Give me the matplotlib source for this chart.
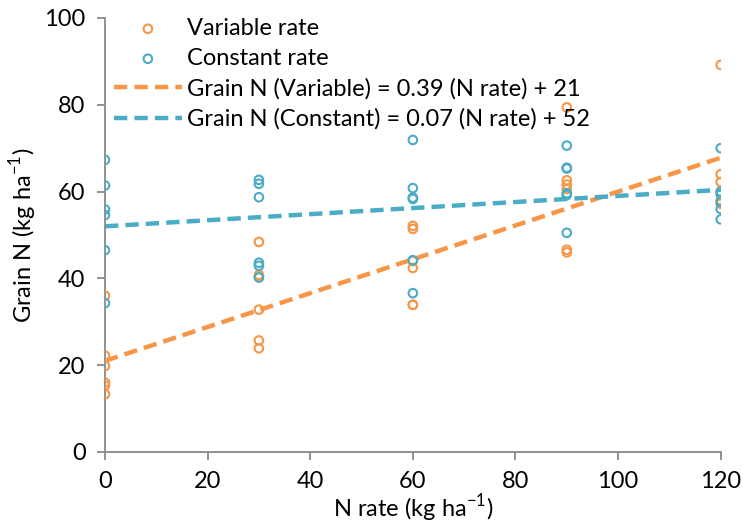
import numpy as np
import matplotlib.pyplot as plt

plt.rcParams['font.family'] = ['Lato', 'DejaVu Sans']

# N rate (kg/ha) for each observation
x_var = [0, 0, 0, 0, 0, 0,
         30, 30, 30, 30, 30, 30,
         60, 60, 60, 60, 60, 60,
         90, 90, 90, 90, 90, 90,
         120, 120, 120, 120, 120, 120]
grain_var = [36.0, 22.2, 19.8, 16.0, 15.3, 13.3,
             48.4, 40.8, 40.3, 32.8, 25.7, 23.9,
             52.1, 51.4, 44.0, 42.4, 33.9, 33.9,
             79.4, 62.6, 61.6, 60.6, 46.6, 46.0,
             89.2, 64.0, 62.2, 60.0, 58.0, 57.2]

x_con = [0, 0, 0, 0, 0, 0,
         30, 30, 30, 30, 30, 30,
         60, 60, 60, 60, 60, 60,
         90, 90, 90, 90, 90, 90,
         120, 120, 120, 120, 120, 120]
grain_con = [67.3, 61.4, 55.9, 54.6, 46.5, 34.3,
             62.7, 61.8, 58.7, 43.6, 42.9, 40.2,
             71.9, 60.8, 58.6, 58.3, 44.2, 36.6,
             70.6, 65.5, 65.3, 59.6, 59.2, 50.5,
             70.0, 60.0, 59.4, 57.6, 56.0, 53.6]

# trendline coefficients (slope, intercept) as shown in the legend
fit_var = (0.39, 21)
fit_con = (0.07, 52)
x_fit = np.array([0, 120])

orange = '#F79646'
blue = '#4BACC6'
fs = 17

fig = plt.figure(figsize=(7.43, 5.26), dpi=100)
ax = fig.add_axes([0.1413, 0.1407, 0.8287, 0.8251])

ax.scatter(x_var, grain_var, s=38, facecolors='none', edgecolors=orange,
           linewidths=1.5, label='Variable rate', zorder=3)
ax.scatter(x_con, grain_con, s=38, facecolors='none', edgecolors=blue,
           linewidths=1.5, label='Constant rate', zorder=3)
ax.plot(x_fit, fit_var[0] * x_fit + fit_var[1], color=orange, lw=3.2,
        dashes=(3, 1.6), label='Grain N (Variable) = 0.39 (N rate) + 21', zorder=2)
ax.plot(x_fit, fit_con[0] * x_fit + fit_con[1], color=blue, lw=3.2,
        dashes=(3, 1.6), label='Grain N (Constant) = 0.07 (N rate) + 52', zorder=2)

ax.set_xlim(0, 120)
ax.set_ylim(0, 100)
ax.set_xticks(range(0, 121, 20))
ax.set_yticks(range(0, 101, 20))
for s in ['top', 'right']:
    ax.spines[s].set_visible(False)
for s in ['left', 'bottom']:
    ax.spines[s].set_color('#898989')
    ax.spines[s].set_linewidth(1.3)
ax.tick_params(direction='out', length=6, width=1.3, color='#898989',
               labelsize=fs, pad=8)
ax.set_xlabel(r'N rate (kg ha$^{\mathregular{-1}}$)', fontsize=fs, labelpad=0)
ax.set_ylabel(r'Grain N (kg ha$^{\mathregular{-1}}$)', fontsize=fs, labelpad=4)

ax.legend(loc='upper left', bbox_to_anchor=(0.015, 1.0), frameon=False,
          fontsize=fs, handlelength=2.85, handletextpad=0.25, labelspacing=0.38,
          borderaxespad=0, borderpad=0)

fig.savefig('out.png', dpi=100)
